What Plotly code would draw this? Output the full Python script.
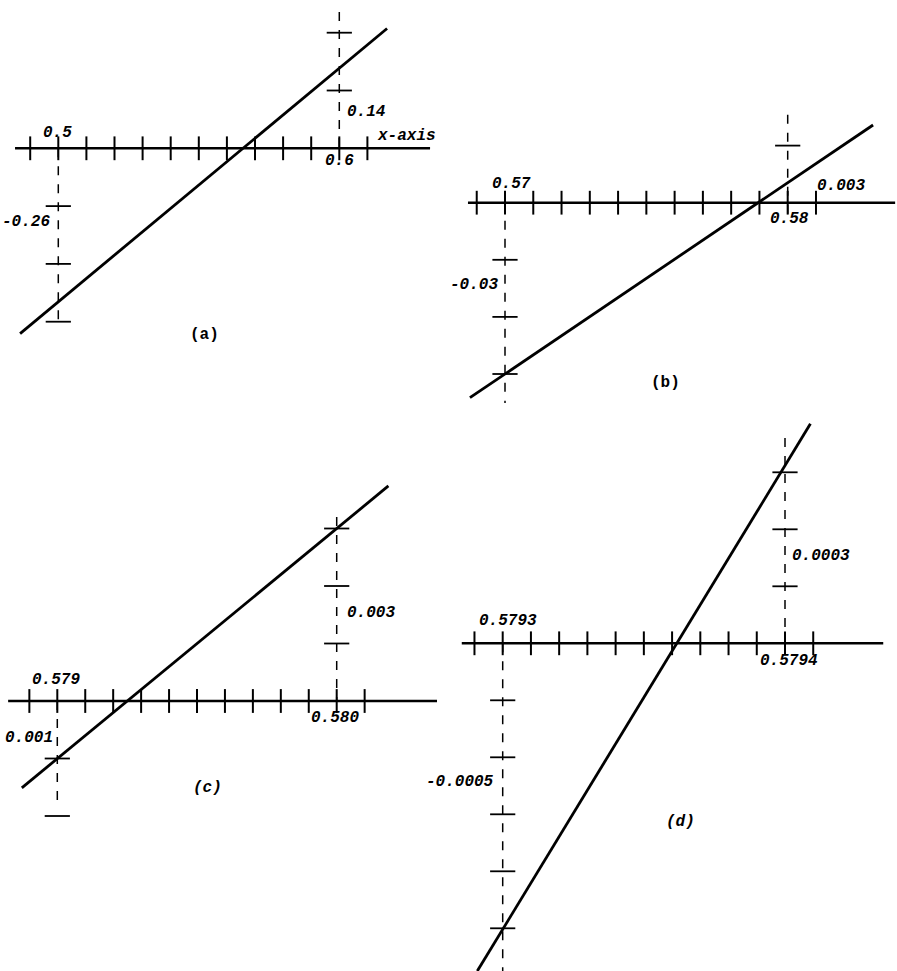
import plotly.graph_objects as go

W, H = 897, 971

# ---- panel (a) ----
a_axis_x = [0.4846, 0.6323]
a_ticks = [0.49, 0.50, 0.51, 0.52, 0.53, 0.54, 0.55, 0.56, 0.57, 0.58, 0.59, 0.60, 0.61]
a_line_x = [0.4864, 0.6170]
a_line_y = [-0.3205, 0.2072]
a_left_x, a_left_y, a_left_ticks = 0.5, [0, -0.30], [-0.1, -0.2, -0.3]
a_right_x, a_right_y, a_right_ticks = 0.6, [0.236, -0.01], [0.1, 0.2]
a_labels = ["0.5", "0.6", "x-axis", "0.14", "-0.26", "(a)"]

# ---- panel (b) ----
b_axis_x = [0.56869, 0.58380]
b_ticks = [0.569, 0.570, 0.571, 0.572, 0.573, 0.574, 0.575, 0.576, 0.577, 0.578, 0.579, 0.580, 0.581]
b_line_x = [0.56876, 0.58302]
b_line_y = [-0.03415, 0.01361]
b_left_x, b_left_y, b_left_ticks = 0.57, [0, -0.0351], [-0.01, -0.02, -0.03]
b_right_x, b_right_y, b_right_ticks = 0.58, [0.0154, -0.0035], [0.01]
b_labels = ["0.57", "0.58", "0.003", "-0.03", "(b)"]

# ---- panel (c) ----
c_axis_x = [0.578824, 0.580359]
c_ticks = [0.5789, 0.5790, 0.5791, 0.5792, 0.5793, 0.5794, 0.5795, 0.5796, 0.5797, 0.5798, 0.5799, 0.5800, 0.5801]
c_line_x = [0.578873, 0.580185]
c_line_y = [-0.00151, 0.00374]
c_left_x, c_left_y, c_left_ticks = 0.579, [0, -0.00184], [-0.001, -0.002]
c_right_x, c_right_y, c_right_ticks = 0.580, [0.0032, 0], [0.001, 0.002, 0.003]
c_labels = ["0.579", "0.580", "0.003", "0.001", "(c)"]

# ---- panel (d) ----
d_axis_x = [0.5792855, 0.5794348]
d_ticks = [0.57929, 0.57930, 0.57931, 0.57932, 0.57933, 0.57934, 0.57935,
           0.57936, 0.57937, 0.57938, 0.57939, 0.57940, 0.57941]
d_line_x = [0.579291, 0.579409]
d_line_y = [-0.000575, 0.000385]
d_left_x, d_left_y, d_left_ticks = 0.5793, [0, -0.000575], [-0.0001, -0.0002, -0.0003, -0.0004, -0.0005]
d_right_x, d_right_y, d_right_ticks = 0.5794, [0.00036, 0], [0.0001, 0.0002, 0.0003]
d_labels = ["0.5793", "0.5794", "0.0003", "-0.0005", "(d)"]

FONT = dict(family="Liberation Mono", size=16, color="black", weight="bold", style="italic")
PLAIN = dict(family="Liberation Mono", size=16, color="black", weight="bold")

fig = go.Figure()


def add_panel(n, axis_x, ticks, line_x, line_y, lx, ly, lt, rx, ry, rt):
    xa, ya = ("x", "y") if n == 1 else (f"x{n}", f"y{n}")
    # horizontal axis with ticks
    fig.add_trace(go.Scatter(x=axis_x, y=[0, 0], mode="lines", xaxis=xa, yaxis=ya,
                             line=dict(color="black", width=2.5)))
    fig.add_trace(go.Scatter(x=ticks, y=[0] * len(ticks), mode="markers", xaxis=xa, yaxis=ya,
                             marker=dict(symbol="line-ns-open", size=17, color="black",
                                         line=dict(color="black", width=2))))
    # dashed ordinates
    for x, ys, tk in [(lx, ly, lt), (rx, ry, rt)]:
        fig.add_trace(go.Scatter(x=[x, x], y=ys, mode="lines", xaxis=xa, yaxis=ya,
                                 line=dict(color="black", width=1.5, dash="dash")))
        fig.add_trace(go.Scatter(x=[x] * len(tk), y=tk, mode="markers", xaxis=xa, yaxis=ya,
                                 marker=dict(symbol="line-ew-open", size=18, color="black",
                                             line=dict(color="black", width=1.8))))
    # the function line
    fig.add_trace(go.Scatter(x=line_x, y=line_y, mode="lines", xaxis=xa, yaxis=ya,
                             line=dict(color="black", width=2.8)))


add_panel(1, a_axis_x, a_ticks, a_line_x, a_line_y, a_left_x, a_left_y, a_left_ticks,
          a_right_x, a_right_y, a_right_ticks)
add_panel(2, b_axis_x, b_ticks, b_line_x, b_line_y, b_left_x, b_left_y, b_left_ticks,
          b_right_x, b_right_y, b_right_ticks)
add_panel(3, c_axis_x, c_ticks, c_line_x, c_line_y, c_left_x, c_left_y, c_left_ticks,
          c_right_x, c_right_y, c_right_ticks)
add_panel(4, d_axis_x, d_ticks, d_line_x, d_line_y, d_left_x, d_left_y, d_left_ticks,
          d_right_x, d_right_y, d_right_ticks)


def axes_for(box, x0, px0, sx, py0, sy):
    # box in page pixels (left, top, right, bottom); calibration: x0 sits at px0,
    # y = 0 sits at py0, sx / sy are pixels per data unit
    l, t, r, b = box
    xd = [l / W, r / W]
    yd = [1 - b / H, 1 - t / H]
    xr = [x0 + (l - px0) / sx, x0 + (r - px0) / sx]
    yr = [(py0 - b) / sy, (py0 - t) / sy]
    return xd, yd, xr, yr


geo = [
    ((0, 0, 448, 345), 0.5, 58.3, 2810, 148.3, 578),
    ((448, 90, 897, 410), 0.57, 505, 28270, 202.7, 5710),
    ((0, 470, 448, 830), 0.579, 57.3, 279400, 701, 57500),
    ((448, 410, 897, 971), 0.5793, 502.7, 2823000, 643.3, 570000),
]

layout = {}
for i, g in enumerate(geo, start=1):
    xd, yd, xr, yr = axes_for(*g)
    sfx = "" if i == 1 else str(i)
    layout["xaxis" + sfx] = dict(domain=xd, range=xr, visible=False, fixedrange=True,
                                 anchor="y" + sfx)
    layout["yaxis" + sfx] = dict(domain=yd, range=yr, visible=False, fixedrange=True,
                                 anchor="x" + sfx)


def lab(n, text, x, y, xanchor="center", dx=0, dy=0, font=None):
    sfx = "" if n == 1 else str(n)
    return dict(text=text, x=x, y=y, xref="x" + sfx, yref="y" + sfx, showarrow=False,
                xanchor=xanchor, yanchor="middle", xshift=dx, yshift=dy, font=font or FONT)


ann = [
    lab(1, a_labels[0], 0.5, 0, dx=-1, dy=15),
    lab(1, a_labels[1], 0.6, 0, dx=0, dy=-13),
    lab(1, a_labels[2], 0.61, 0, xanchor="left", dx=8, dy=12),
    lab(1, a_labels[3], a_right_x, 0.069, xanchor="left", dx=6, dy=-4),
    lab(1, a_labels[4], a_left_x, -0.1327, xanchor="right", dx=-6, dy=3),
    lab(1, a_labels[5], 0.5522, -0.323, font=PLAIN),

    lab(2, b_labels[0], 0.57, 0, dx=6, dy=19),
    lab(2, b_labels[1], 0.58, 0, dx=2, dy=-16),
    lab(2, b_labels[2], 0.581, 0, xanchor="left", dx=-1, dy=17),
    lab(2, b_labels[3], b_left_x, -0.015, xanchor="right", dx=-5, dy=3),
    lab(2, b_labels[4], 0.57566, -0.03158, font=PLAIN),

    lab(3, c_labels[0], 0.579, 0, dx=-1, dy=21),
    lab(3, c_labels[1], 0.580, 0, dx=-2, dy=-17),
    lab(3, c_labels[2], c_right_x, 0.0015, xanchor="left", dx=8, dy=2),
    lab(3, c_labels[3], c_left_x, -0.0005, xanchor="right", dx=-2, dy=-8),
    lab(3, c_labels[4], 0.579539, -0.001513),

    lab(4, d_labels[0], 0.5793, 0, dx=5, dy=22),
    lab(4, d_labels[1], 0.5794, 0, dx=4, dy=-18),
    lab(4, d_labels[2], d_right_x, 0.00015, xanchor="left", dx=5, dy=2),
    lab(4, d_labels[3], d_left_x, -0.00025, xanchor="right", dx=-7, dy=4),
    lab(4, d_labels[4], 0.579363, -0.0003135),
]

fig.update_layout(
    width=W, height=H,
    margin=dict(l=0, r=0, t=0, b=0),
    paper_bgcolor="white", plot_bgcolor="white",
    showlegend=False,
    annotations=ann,
    **layout,
)

# drop the page's default body margin so the figure sits at the window origin
fig.write_html("out.html", config={"displayModeBar": False},
               post_script="document.body.style.margin='0';")
